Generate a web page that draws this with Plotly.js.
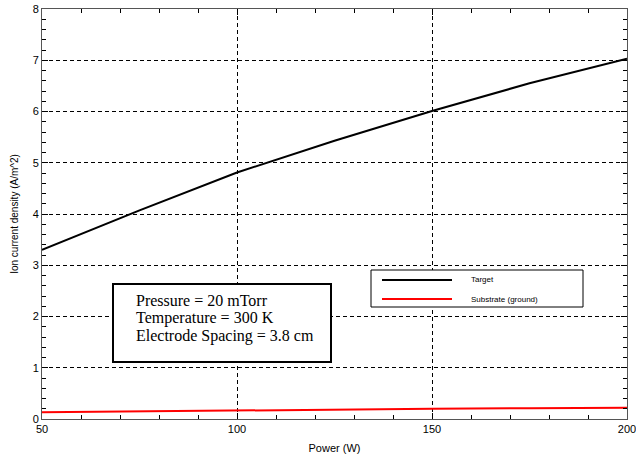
<!DOCTYPE html>
<html>
<head>
<meta charset="utf-8">
<script src="https://cdn.plot.ly/plotly-3.0.1.min.js"></script>
<style>html,body{margin:0;padding:0;background:#fff;}#chart{width:636px;height:464px;}</style>
</head>
<body>
<div id="chart"></div>
<script>
const power = [50, 75, 100, 125, 150, 175, 200];
const targetCurrent = [3.30, 4.07, 4.81, 5.43, 6.01, 6.55, 7.03];
const substrateCurrent = [0.13, 0.15, 0.17, 0.185, 0.20, 0.21, 0.22];
const seriesNames = ['Target', 'Substrate (ground)'];
const seriesColors = ['#000000', '#ff0000'];
const infoLines = ['Pressure = 20 mTorr', 'Temperature = 300 K', 'Electrode Spacing = 3.8 cm'];

const W = 636, H = 464;
const M = {l: 42, r: 9, t: 9, b: 45};
const pw = W - M.l - M.r, ph = H - M.t - M.b;
const px = x => (x - M.l) / pw;
const py = y => (H - M.b - y) / ph;

const traces = [
  {x: power, y: targetCurrent, name: seriesNames[0], mode: 'lines',
   line: {color: seriesColors[0], width: 2}, showlegend: false},
  {x: power, y: substrateCurrent, name: seriesNames[1], mode: 'lines',
   line: {color: seriesColors[1], width: 2}, showlegend: false}
];

const shapes = [
  {type: 'rect', xref: 'paper', yref: 'paper', x0: px(371), x1: px(583), y0: py(307), y1: py(270),
   line: {color: '#000', width: 1}, fillcolor: '#fff', layer: 'above'},
  {type: 'line', xref: 'paper', yref: 'paper', x0: px(382), x1: px(452), y0: py(280), y1: py(280),
   line: {color: seriesColors[0], width: 2}},
  {type: 'line', xref: 'paper', yref: 'paper', x0: px(382), x1: px(452), y0: py(299), y1: py(299),
   line: {color: seriesColors[1], width: 2}},
  {type: 'rect', xref: 'paper', yref: 'paper', x0: px(113), x1: px(331), y0: py(362), y1: py(284),
   line: {color: '#000', width: 2}, fillcolor: '#fff', layer: 'above'}
];

const annotations = [
  {xref: 'paper', yref: 'paper', x: px(469), y: py(280), text: seriesNames[0], showarrow: false,
   xanchor: 'left', yanchor: 'middle', font: {family: 'Liberation Sans, Arial', size: 8, color: '#000'}},
  {xref: 'paper', yref: 'paper', x: px(469), y: py(299), text: seriesNames[1], showarrow: false,
   xanchor: 'left', yanchor: 'middle', font: {family: 'Liberation Sans, Arial', size: 8, color: '#000'}}
];
infoLines.forEach((t, i) => annotations.push({
  xref: 'paper', yref: 'paper', x: px(134), y: py(300 + 18 * i), text: t, showarrow: false,
  xanchor: 'left', yanchor: 'middle', font: {family: 'Liberation Serif, Times New Roman', size: 16, color: '#000'}
}));

const axisCommon = {
  showline: true, linecolor: '#555', linewidth: 1, mirror: 'allticks',
  ticks: 'inside', ticklen: 6, tickcolor: '#000', tickwidth: 1,
  showgrid: true, gridcolor: '#000', gridwidth: 1, griddash: '4px,3px',
  zeroline: false, ticklabeloverflow: 'allow',
  tickfont: {family: 'Liberation Sans, Arial', size: 11, color: '#000'}
};

const layout = {
  width: W, height: H,
  margin: M,
  paper_bgcolor: '#fff', plot_bgcolor: '#fff',
  showlegend: false,
  xaxis: Object.assign({}, axisCommon, {
    range: [50, 200], dtick: 50, tick0: 50,
    minor: {dtick: 10, ticks: 'inside', ticklen: 4, tickcolor: '#000', showgrid: false},
    title: {text: 'Power (W)', standoff: 10, font: {family: 'Liberation Sans, Arial', size: 11, color: '#000'}}
  }),
  yaxis: Object.assign({}, axisCommon, {
    range: [0, 8], dtick: 1, tick0: 0,
    minor: {dtick: 0.2, ticks: 'inside', ticklen: 4, tickcolor: '#000', showgrid: false},
    title: {text: 'Ion current density (A/m^2)', standoff: 12, font: {family: 'Liberation Sans, Arial', size: 10, color: '#000'}}
  }),
  shapes: shapes,
  annotations: annotations
};

Plotly.newPlot('chart', traces, layout, {staticPlot: true, displayModeBar: false});
</script>
</body>
</html>
